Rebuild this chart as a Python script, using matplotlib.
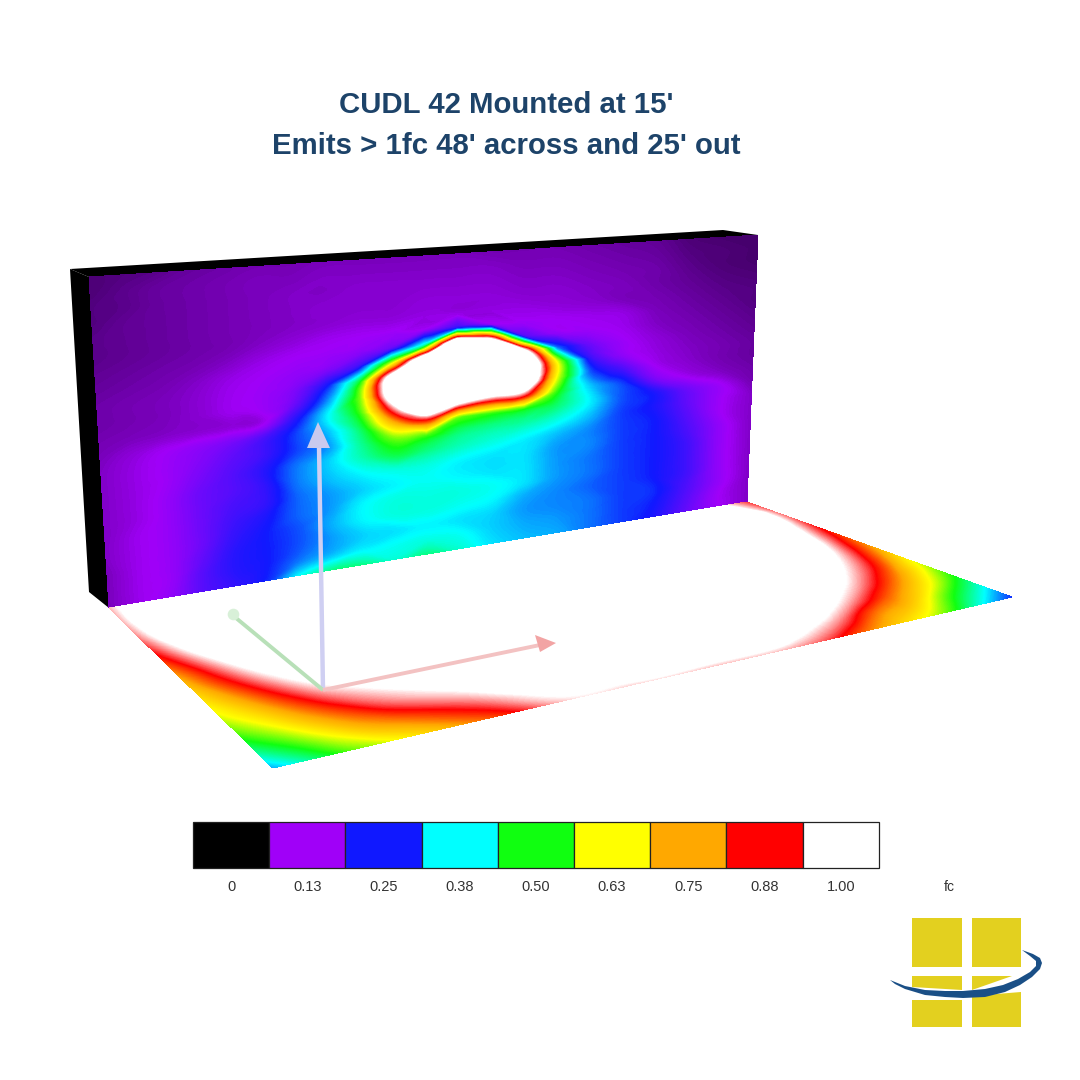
import numpy as np
import matplotlib
matplotlib.use('Agg')
import matplotlib.pyplot as plt
import matplotlib.tri as mtri
from matplotlib.colors import LinearSegmentedColormap

# legend
bar_values = [0, 0.125, 0.25, 0.375, 0.5, 0.625, 0.75, 0.875, 1.0]
bar_labels = ['0', '0.13', '0.25', '0.38', '0.50', '0.63', '0.75', '0.88', '1.00']
bar_colors = ['#000000', '#a000f8', '#1018ff', '#00ffff', '#10ff10', '#ffff00', '#ffa800', '#ff0000', '#ffffff']

# footcandles on the wall, u goes along the wall, w goes up it
wall_u = [0, .05, .1, .15, .2, .25, .3, .35, .4, .45, .5, .55, .6, .65, .7, .75, .8, .85, .9, .95, 1]
wall_w = [1, .95, .9, .85, .8, .75, .7, .65, .6, .55, .5, .45, .4, .35, .3, .25, .2, .15, .1, .05, 0]
wall_fc = [
    [.06, .065, .07, .08, .085, .09, .09, .095, .095, .095, .095, .095, .09, .09, .09, .085, .08, .075, .06, .055, .055],
    [.06, .07, .08, .085, .09, .095, .095, .1, .1, .1, .1, .1, .1, .095, .095, .09, .085, .08, .065, .06, .055],
    [.065, .07, .08, .085, .09, .095, .1, .1, .105, .105, .105, .105, .105, .1, .1, .095, .09, .085, .07, .06, .055],
    [.065, .075, .08, .085, .09, .095, .1, .105, .105, .105, .11, .11, .11, .105, .105, .1, .095, .085, .075, .065, .06],
    [.07, .075, .08, .085, .09, .095, .1, .105, .11, .11, .115, .115, .115, .115, .11, .105, .095, .09, .08, .07, .065],
    [.07, .075, .08, .085, .09, .1, .11, .12, .125, .13, .135, .22, .14, .13, .125, .12, .115, .095, .085, .075, .065],
    [.075, .08, .085, .09, .1, .115, .125, .13, .14, .18, .42, 1.25, 1.03, .2, .14, .13, .12, .1, .09, .08, .07],
    [.08, .085, .09, .1, .115, .125, .135, .15, .22, .62, 1.25, 1.3, 1.3, 1.05, .3, .17, .13, .11, .095, .085, .075],
    [.085, .09, .095, .105, .12, .13, .15, .24, .48, 1.12, 1.3, 1.3, 1.3, 1.3, .62, .22, .14, .115, .1, .09, .08],
    [.085, .09, .095, .105, .12, .13, .17, .31, .55, 1.12, 1.3, 1.3, 1.3, 1.25, .62, .29, .2, .125, .105, .09, .08],
    [.09, .095, .1, .105, .11, .12, .23, .37, .52, .92, 1.25, 1.05, .95, .92, .52, .35, .27, .16, .12, .1, .085],
    [.095, .11, .125, .14, .16, .2, .27, .34, .46, .7, .85, .55, .52, .5, .45, .37, .28, .24, .17, .13, .09],
    [.1, .115, .13, .15, .18, .21, .27, .32, .43, .54, .52, .45, .43, .42, .39, .34, .27, .24, .18, .13, .1],
    [.1, .115, .13, .16, .19, .23, .3, .35, .41, .47, .44, .41, .39, .37, .34, .31, .27, .25, .19, .13, .1],
    [.1, .115, .135, .17, .19, .22, .3, .34, .37, .39, .39, .37, .36, .36, .32, .31, .27, .25, .2, .14, .1],
    [.1, .115, .135, .17, .2, .22, .29, .32, .35, .37, .38, .37, .36, .36, .32, .3, .27, .25, .21, .14, .1],
    [.1, .12, .135, .17, .21, .24, .29, .32, .37, .39, .39, .39, .38, .36, .32, .3, .27, .25, .21, .14, .1],
    [.1, .12, .135, .17, .22, .25, .28, .33, .37, .39, .39, .38, .37, .33, .31, .29, .27, .25, .21, .14, .1],
    [.095, .12, .135, .18, .23, .25, .28, .32, .35, .36, .37, .36, .35, .32, .31, .3, .27, .26, .2, .14, .1],
    [.095, .12, .135, .19, .23, .25, .3, .34, .37, .38, .39, .38, .35, .33, .32, .3, .27, .25, .19, .13, .1],
    [.095, .12, .14, .19, .22, .26, .38, .44, .44, .4, .44, .4, .36, .34, .33, .3, .27, .24, .18, .13, .1],
]

# footcandles on the floor, u along the wall, v out from it
floor_u = [0, .05, .1, .15, .2, .3, .4, .5, .6, .7, .75, .8, .85, .9, .95, 1]
floor_v = [0, .1, .2, .3, .4, .5, .6, .7, .8, .9, 1]
floor_fc = [
    [.96, 1.1, 1.2, 1.2, 1.2, 1.2, 1.2, 1.2, 1.2, 1.2, 1.2, 1.2, 1.2, 1.2, 1.05, .9],
    [.96, 1.12, 1.2, 1.2, 1.2, 1.2, 1.2, 1.2, 1.2, 1.2, 1.2, 1.2, 1.2, 1.2, 1.2, .93],
    [.93, 1.08, 1.18, 1.2, 1.2, 1.2, 1.2, 1.2, 1.2, 1.2, 1.2, 1.2, 1.2, 1.2, 1.15, .91],
    [.865, 1.01, 1.12, 1.17, 1.2, 1.2, 1.2, 1.2, 1.2, 1.2, 1.2, 1.2, 1.2, 1.2, 1.08, .86],
    [.775, .93, 1.05, 1.12, 1.18, 1.2, 1.2, 1.2, 1.2, 1.2, 1.2, 1.2, 1.2, 1.2, 1.03, .8],
    [.71, .855, .98, 1.06, 1.12, 1.2, 1.2, 1.2, 1.2, 1.2, 1.2, 1.2, 1.2, 1.1, .96, .73],
    [.65, .77, .9, 1.0, 1.05, 1.15, 1.2, 1.2, 1.2, 1.2, 1.2, 1.2, 1.13, 1.03, .88, .64],
    [.595, .69, .81, .92, .985, 1.08, 1.2, 1.2, 1.2, 1.2, 1.2, 1.13, 1.05, .94, .77, .57],
    [.52, .61, .72, .82, .91, 1.01, 1.12, 1.2, 1.2, 1.2, 1.1, 1.05, .95, .81, .66, .48],
    [.43, .52, .62, .72, .79, .925, 1.05, 1.12, 1.12, 1.1, 1.02, .94, .79, .7, .52, .37],
    [.33, .43, .53, .6, .67, .82, .98, .98, .97, .96, .91, .8, .69, .58, .41, .26],
]


def quad_mesh(u, v, p00, p10, p11, p01):
    # bilinear map of the unit square onto a quad in the picture
    uu, vv = np.meshgrid(u, v)
    x = (1-uu)*(1-vv)*p00[0] + uu*(1-vv)*p10[0] + uu*vv*p11[0] + (1-uu)*vv*p01[0]
    y = (1-uu)*(1-vv)*p00[1] + uu*(1-vv)*p10[1] + uu*vv*p11[1] + (1-uu)*vv*p01[1]
    return x, y


def draw_surface(ax, x, y, fc):
    fc = np.array(fc, dtype=float)
    rows, cols = fc.shape
    z = fc.ravel()
    tris = []
    for r in range(rows-1):
        for c in range(cols-1):
            a, b = r*cols + c, r*cols + c + 1
            d, e = a + cols, b + cols
            # split each cell along the diagonal with the closer values, or the contours zigzag
            if abs(z[a]-z[e]) < abs(z[b]-z[d]):
                tris += [[a, b, e], [a, e, d]]
            else:
                tris += [[a, b, d], [b, e, d]]
    tri = mtri.Triangulation(x.ravel(), y.ravel(), tris)
    interp = mtri.CubicTriInterpolator(tri, z, kind='geom')
    fine_tri, fine_fc = mtri.UniformTriRefiner(tri).refine_field(z, triinterpolator=interp, subdiv=3)
    # the cubic rings next to the steep dome, keep it close to the plain surface
    plain = mtri.LinearTriInterpolator(tri, z)(fine_tri.x, fine_tri.y)
    plain = np.ma.filled(plain, np.nan)
    kept = np.clip(fine_fc, plain-0.01, plain+0.05)
    fine_fc = np.where(np.isnan(plain), fine_fc, kept)
    ax.tricontourf(fine_tri, fine_fc, levels=levels, cmap=fc_map, vmin=0, vmax=1, extend='max', antialiased=False, zorder=2)


plt.rcParams['font.family'] = ['Liberation Sans', 'DejaVu Sans']

fig = plt.figure(figsize=(10.8, 10.8), dpi=100)
ax = fig.add_axes([0, 0, 1, 1])
ax.set_xlim(0, 1080)
ax.set_ylim(1080, 0)
ax.axis('off')

title_color = '#1d4369'
ax.text(506, 105, "CUDL 42 Mounted at 15'", ha='center', va='center', fontsize=21.2, fontweight='bold', color=title_color)
ax.text(506, 146, "Emits > 1fc 48' across and 25' out", ha='center', va='center', fontsize=21.2, fontweight='bold', color=title_color)

fc_map = LinearSegmentedColormap.from_list('fc', list(zip(bar_values, bar_colors)), N=1024)
fc_map.set_over('#ffffff')
levels = np.linspace(0, 1, 321)

# black thickness of the wall
ax.fill([70, 723, 758, 89], [269, 230, 235, 277], color='black', lw=0, zorder=1)
ax.fill([70, 89, 109, 89], [269, 277, 608, 592], color='black', lw=0, zorder=1)

wall_x, wall_y = quad_mesh(wall_u, wall_w, (109, 608), (747, 502), (758, 235), (89, 277))
draw_surface(ax, wall_x, wall_y, wall_fc)

floor_x, floor_y = quad_mesh(floor_u, floor_v, (109, 608), (747, 502), (1012, 597), (273, 768))
draw_surface(ax, floor_x, floor_y, floor_fc)

# axis arrows
ax.plot([323, 319], [690, 445], color='#cfcff2', lw=3.2, solid_capstyle='butt', zorder=3)
ax.fill([318, 307, 330], [422, 448, 448], color='#c9c9ee', lw=0, zorder=3)
ax.plot([323, 236], [690, 618], color='#b8e0b8', lw=2.8, solid_capstyle='butt', zorder=3)
ax.scatter([233], [614], s=70, color='#d8f0d8', lw=0, zorder=3)
ax.plot([323, 540], [690, 645], color='#f3c2c2', lw=2.8, solid_capstyle='butt', zorder=3)
ax.fill([556, 535, 540], [643, 635, 652], color='#f2a4a4', lw=0, zorder=3)

# legend boxes
bar_left = 193
bar_step = 76.2
bar_pos = [bar_left + bar_step*(i+0.5) for i in range(len(bar_labels))]
ax.bar(bar_pos, [46]*len(bar_pos), width=bar_step, bottom=822, color=bar_colors, edgecolor='#222222', linewidth=0.9, zorder=2)
for xp, lab in zip(bar_pos, bar_labels):
    ax.text(xp, 887, lab, ha='center', va='center', fontsize=10.5, color='#333333')
ax.text(949, 887, 'fc', ha='center', va='center', fontsize=10, color='#333333')

# logo
yellow = '#e3d01f'
navy = '#1a4f86'
ax.fill([912, 962, 962, 912], [918, 918, 967, 967], color=yellow, lw=0, zorder=2)
ax.fill([972, 1021, 1021, 972], [918, 918, 967, 967], color=yellow, lw=0, zorder=2)
ax.fill([912, 962, 962, 912], [976, 976, 990, 987], color=yellow, lw=0, zorder=2)
ax.fill([972, 1012, 972], [976, 976, 990], color=yellow, lw=0, zorder=2)
ax.fill([912, 962, 962, 912], [1000, 1000, 1027, 1027], color=yellow, lw=0, zorder=2)
ax.fill([972, 1021, 1021, 972], [996, 992, 1027, 1027], color=yellow, lw=0, zorder=2)
swoosh_x = [890, 895, 905, 925, 945, 963, 985, 1005, 1020, 1032, 1040, 1042, 1040, 1033, 1022, 1030, 1036, 1036, 1030, 1018, 1003, 985, 963, 945, 925, 905]
swoosh_y = [980, 984, 989, 995, 997, 998, 997, 992, 985, 977, 969, 963, 958, 954, 950, 956, 961, 966, 972, 979, 985, 989, 991, 991, 990, 986]
ax.fill(swoosh_x, swoosh_y, color=navy, lw=0, zorder=3)

fig.savefig('out.png', dpi=100)
